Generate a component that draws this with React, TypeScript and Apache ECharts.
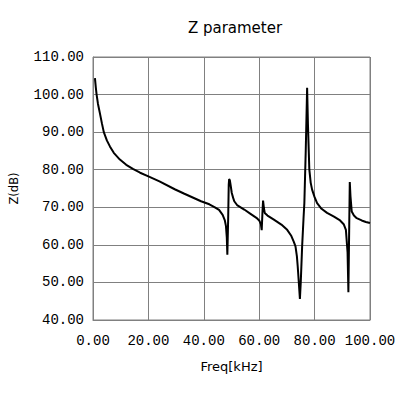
import React, { useEffect, useRef } from "react";
import * as echarts from "echarts";

const freqKHz: number[] = [
  0.7, 1.0, 1.3, 1.8, 2.5, 3.2, 3.9, 5.0, 6.1, 7.5, 9.7, 12.0, 14.4, 17.0, 19.8,
  24.0, 29.5, 33.0, 36.0, 39.0, 42.0, 44.0, 45.5, 46.8, 47.6, 48.0, 48.3, 48.5,
  48.8, 49.0, 49.15, 49.4, 49.7, 50.1, 50.6, 51.0, 52.0, 54.6, 57.0, 59.0, 60.0, 60.6,
  60.9, 61.2, 61.4, 61.7, 62.0, 63.0, 65.3, 68.0, 70.1, 71.5, 72.5, 73.1, 73.6, 73.9,
  74.3, 74.7, 75.0, 75.5, 76.0, 76.3, 76.8, 77.3, 77.6, 78.1, 78.6, 79.1, 80.0, 80.9,
  82.5, 84.5, 87.0, 89.2, 90.5, 91.3, 91.9, 92.2, 92.5, 92.7, 92.95, 93.4, 94.2, 95.2,
  97.0, 98.5, 100.0,
];

const zDb: number[] = [
  104.4, 102.0, 100.0, 97.5, 95.0, 92.4, 90.0, 87.8, 86.2, 84.5, 82.7, 81.3, 80.2, 79.2, 78.3,
  76.9, 74.8, 73.6, 72.6, 71.6, 70.8, 70.0, 69.3, 68.0, 66.5, 65.0, 62.0, 57.4,
  67.0, 76.0, 77.5, 77.2, 75.8, 73.8, 72.5, 71.6, 70.6, 69.4, 68.2, 67.2, 66.5, 65.5,
  63.9, 69.0, 71.8, 69.8, 68.5, 67.8, 66.7, 65.4, 64.0, 62.5, 60.8, 59.6, 57.0, 54.3,
  50.0, 45.6, 50.0, 59.6, 67.0, 71.1, 85.0, 101.8, 92.0, 80.0, 76.5, 74.7, 72.7, 71.1,
  69.6, 68.5, 67.5, 66.5, 65.5, 64.0, 58.0, 47.4, 65.0, 76.7, 73.0, 68.9, 67.8, 67.1,
  66.5, 66.1, 65.8,
];

const titleText = "Z parameter";
const xName = "Freq[kHz]";
const yName = "Z(dB)";

export default function App() {
  const ref = useRef<HTMLDivElement>(null);
  useEffect(() => {
    if (!ref.current) return;
    const chart = echarts.init(ref.current, undefined, { renderer: "svg" });
    const gridColor = "#808080";
    chart.setOption({
      animation: false,
      backgroundColor: "#ffffff",
      title: {
        text: titleText,
        left: 230,
        top: 15,
        textAlign: "center",
        textStyle: { fontFamily: "DejaVu Sans", fontSize: 15, fontWeight: "normal", color: "#000" },
      },
      grid: { left: 91, right: 45, top: 57, bottom: 73, show: true, borderColor: gridColor, borderWidth: 1 },
      xAxis: {
        type: "value",
        min: 0,
        max: 100,
        interval: 20,
        name: xName,
        nameLocation: "middle",
        nameGap: 40,
        nameTextStyle: { fontFamily: "DejaVu Sans", fontSize: 13, color: "#000" },
        axisLine: { show: true, lineStyle: { color: gridColor, width: 1 } },
        axisTick: { show: false },
        axisLabel: {
          margin: 14,
          fontFamily: "Liberation Mono",
          fontSize: 14,
          color: "#000",
          formatter: (v: number) => v.toFixed(2),
        },
        splitLine: { show: true, lineStyle: { color: gridColor, width: 1 } },
      },
      yAxis: {
        type: "value",
        min: 40,
        max: 110,
        interval: 10,
        name: yName,
        nameLocation: "middle",
        nameGap: 73,
        nameTextStyle: { fontFamily: "DejaVu Sans", fontSize: 11.5, color: "#000" },
        axisLine: { show: true, lineStyle: { color: gridColor, width: 1 } },
        axisTick: { show: false },
        axisLabel: {
          margin: 9,
          fontFamily: "Liberation Mono",
          fontSize: 14,
          color: "#000",
          formatter: (v: number) => v.toFixed(2),
        },
        splitLine: { show: true, lineStyle: { color: gridColor, width: 1 } },
      },
      series: [
        {
          type: "line",
          data: freqKHz.map((f, i) => [f, zDb[i]]),
          showSymbol: false,
          symbol: "none",
          smooth: false,
          lineStyle: { color: "#000", width: 2 },
        },
      ],
    });
    return () => chart.dispose();
  }, []);
  return <div ref={ref} style={{ position: "fixed", left: 0, top: 0, width: 415, height: 393 }} />;
}
